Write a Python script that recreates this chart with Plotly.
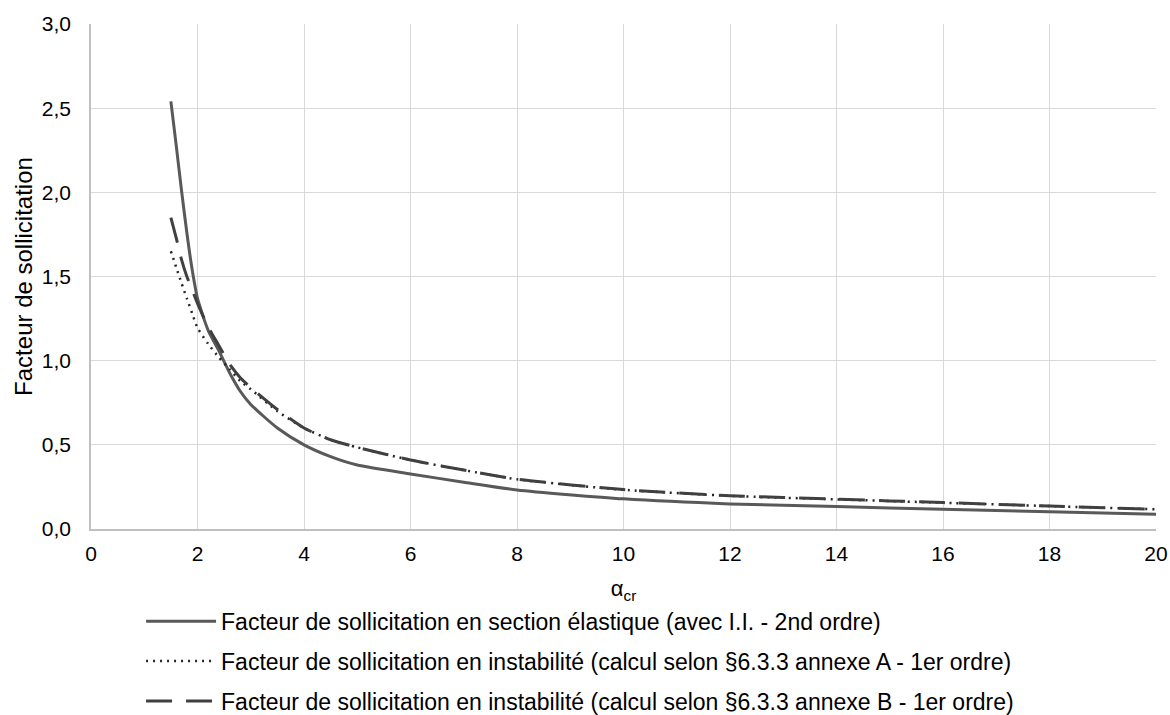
import plotly.graph_objects as go

alpha = [1.5, 1.6, 1.7, 1.8, 1.9, 2.0, 2.2, 2.4, 2.6, 2.8, 3.0, 3.5, 4.0, 4.5, 5.0,
         6.0, 7.0, 8.0, 10.0, 12.0, 14.0, 16.0, 18.0, 20.0]

elastique = [2.54, 2.28, 2.01, 1.76, 1.54, 1.37, 1.18, 1.06, 0.93, 0.82, 0.74, 0.60, 0.50,
             0.43, 0.38, 0.327, 0.278, 0.232, 0.179, 0.149, 0.133, 0.117, 0.102, 0.087]

annexe_a = [1.65, 1.555, 1.46, 1.37, 1.28, 1.195, 1.10, 1.02, 0.95, 0.88, 0.83, 0.70, 0.60,
            0.53, 0.485, 0.41, 0.35, 0.295, 0.233, 0.197, 0.176, 0.156, 0.136, 0.117]

annexe_b = [1.85, 1.73, 1.60, 1.50, 1.42, 1.34, 1.20, 1.09, 0.98, 0.90, 0.84, 0.71, 0.60,
            0.53, 0.485, 0.41, 0.35, 0.296, 0.234, 0.198, 0.177, 0.157, 0.136, 0.117]

names = [
    "Facteur de sollicitation en section élastique (avec I.I. - 2nd ordre)",
    "Facteur de sollicitation en instabilité (calcul selon §6.3.3 annexe A - 1er ordre)",
    "Facteur de sollicitation en instabilité (calcul selon §6.3.3 annexe B - 1er ordre)",
]

x_ticks = list(range(0, 21, 2))
y_ticks = [0, 0.5, 1.0, 1.5, 2.0, 2.5, 3.0]

fig = go.Figure()
fig.add_trace(go.Scatter(x=alpha, y=elastique, mode="lines", name=names[0],
                         line=dict(color="#595959", width=3, shape="spline", smoothing=0.6),
                         legendgroup="a"))
fig.add_trace(go.Scatter(x=alpha, y=annexe_a, mode="lines", name=names[1],
                         line=dict(color="#262626", width=2.5, dash="2px,5px", shape="spline", smoothing=0.6),
                         legendgroup="b"))
fig.add_trace(go.Scatter(x=alpha, y=annexe_b, mode="lines", name=names[2],
                         line=dict(color="#404040", width=3, dash="26px,14px", shape="spline", smoothing=0.6),
                         legendgroup="c"))

font = "Liberation Sans, Arial, sans-serif"
fig.update_layout(
    width=1170, height=715,
    margin=dict(l=91, r=14, t=24, b=186, autoexpand=False),
    paper_bgcolor="white", plot_bgcolor="white",
    separators=", ",
    font=dict(family=font, size=21, color="#000000"),
    showlegend=True,
    legend=dict(orientation="v", x=0.047, xanchor="left", y=-0.14, yanchor="top",
                font=dict(size=23, family=font, color="#000000"),
                tracegroupgap=7, itemwidth=70, bgcolor="rgba(0,0,0,0)"),
    xaxis=dict(range=[0, 20], tickvals=x_ticks, showgrid=True, gridcolor="#d9d9d9", gridwidth=1,
               showline=True, linecolor="#bfbfbf", linewidth=1.5, zeroline=False,
               ticks="", tickfont=dict(size=21), ticklabelstandoff=5,
               title=dict(text="α<sub>cr</sub>", font=dict(size=22), standoff=17)),
    yaxis=dict(range=[0, 3], tickvals=y_ticks, tickformat=".1f", showgrid=True,
               gridcolor="#d9d9d9", gridwidth=1, showline=True, linecolor="#bfbfbf",
               linewidth=1.5, zeroline=False, ticks="", tickfont=dict(size=21), ticklabelstandoff=14,
               title=dict(text="Facteur de sollicitation", font=dict(size=24), standoff=2)),
)

fig.write_html("out.html", config={"displayModeBar": False},
               post_script="document.body.style.margin='0px';")
